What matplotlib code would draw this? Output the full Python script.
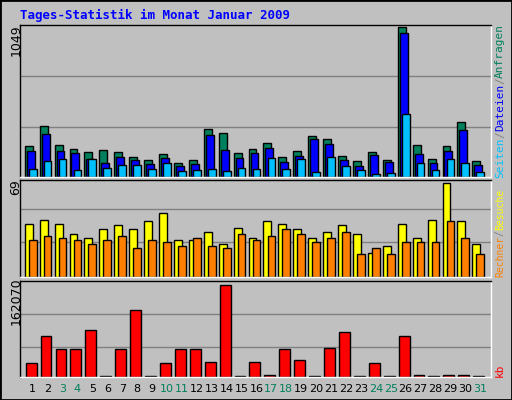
import matplotlib
matplotlib.use("Agg")
import matplotlib.pyplot as plt
import numpy as np

# daily values, January 2009
days = list(range(1, 32))
anfragen = [218, 354, 225, 195, 173, 187, 173, 138, 116, 159, 95, 116, 337, 308, 166, 195,
            237, 138, 180, 287, 266, 145, 109, 173, 116, 1049, 223, 123, 218, 387, 109]
dateien = [180, 301, 180, 166, 123, 95, 138, 116, 88, 131, 74, 88, 294, 187, 131, 166,
           202, 102, 145, 266, 230, 116, 74, 152, 102, 1006, 159, 95, 180, 330, 81]
seiten = [59, 109, 123, 52, 123, 66, 81, 81, 59, 95, 45, 52, 59, 45, 66, 59,
          131, 59, 123, 38, 138, 74, 52, 24, 31, 444, 95, 52, 123, 95, 38]
besuche = [39, 42, 39, 32, 29, 35, 38, 35, 41, 47, 27, 27, 33, 24, 36, 29,
           41, 39, 35, 29, 33, 38, 32, 18, 23, 39, 29, 42, 69, 41, 24]
rechner = [27, 30, 29, 27, 24, 27, 30, 21, 27, 26, 23, 29, 23, 21, 32, 27,
           30, 35, 32, 26, 29, 33, 17, 21, 17, 26, 26, 26, 41, 29, 17]
kb = [25400, 71600, 48500, 48500, 82200, 0, 48500, 117700, 0, 25400, 48500, 48500,
      27200, 162070, 0, 27200, 4100, 48500, 29000, 0, 50300, 78700, 0, 25400, 0,
      71600, 4100, 0, 4100, 4100, 0]
weekend = [3, 4, 10, 11, 17, 18, 24, 25, 31]

BG = "#C0C0C0"
W, H = 512, 400
fig = plt.figure(figsize=(5.12, 4.0), dpi=100, facecolor=BG)
x = np.array(days)

def panel(top, bottom):
    ax = fig.add_axes([20 / W, 1 - bottom / H, (491 - 20) / W, (bottom - top) / H])
    ax.set_facecolor(BG)
    ax.set_xlim(0.15, 31.72)
    ax.set_xticks([])
    ax.set_yticks([])
    for s in ax.spines.values():
        s.set_color("black")
        s.set_linewidth(1)
    ax.spines["right"].set_color("white")
    ax.spines["bottom"].set_color("white")
    return ax

ax1 = panel(25, 177)
ax1.set_ylim(0, 1049 * 148 / 146)
for f in (1 / 3, 2 / 3):
    ax1.axhline(f * 1049 * 148 / 146 * 0.995, color="#808080", lw=1, zorder=0)
kw = dict(edgecolor="black", linewidth=1, align="edge", zorder=2)
ax1.bar(x - 0.53, anfragen, 0.53, color="#00805C", **kw)
ax1.bar(x - 0.40, dateien, 0.53, color="#0000FF", **kw)
ax1.bar(x - 0.26, seiten, 0.52, color="#00C0FF", **kw)

ax2 = panel(180, 277)
ax2.set_ylim(0, 69 * 1.035)
for f in (0.36, 0.70):
    ax2.axhline(f * 69 * 1.035, color="#808080", lw=1, zorder=0)
ax2.bar(x - 0.53, besuche, 0.53, color="#FFFF00", **kw)
ax2.bar(x - 0.26, rechner, 0.52, color="#FF8000", **kw)

ax3 = panel(281, 377)
ax3.set_ylim(0, 162070 * 1.04)
for f in (0.31, 0.66):
    ax3.axhline(f * 162070 * 1.04, color="#808080", lw=1, zorder=0)
ax3.bar(x - 0.47, [max(v, 1000) for v in kb], 0.73, color="#FF0000", **kw)

# y max labels
fig.text(16 / W, 1 - 40 / H, "1049", rotation=90, ha="center", va="center", fontsize=9)
fig.text(16 / W, 1 - 187 / H, "69", rotation=90, ha="center", va="center", fontsize=9)
fig.text(16 / W, 1 - 301 / H, "162070", rotation=90, ha="center", va="center", fontsize=9)

# day labels
for d in days:
    xp = 20 + (d - 0.15) / (31.72 - 0.15) * 471
    fig.text(xp / W, 1 - 389 / H, str(d), ha="center", va="center", fontsize=8,
             color="#00805C" if d in weekend else "black")

fig.text(20 / W, 1 - 15 / H, "Tages-Statistik im Monat Januar 2009", ha="left", va="center",
         fontsize=9, fontweight="bold", family="DejaVu Sans Mono", color="#0000FF")

def side(parts, y0, fs=6.8):
    cw = 0.602 * fs * 100 / 72
    y = y0
    for txt, col in parts:
        fig.text(500 / W, 1 - y / H, txt, rotation=90, ha="center", va="bottom",
                 fontsize=fs, color=col, family="DejaVu Sans Mono")
        y -= len(txt) * cw

side([("Seiten", "#00C0FF"), ("/", "#808080"), ("Dateien", "#0000FF"),
      ("/", "#808080"), ("Anfragen", "#00805C")], 178, fs=8)
side([("Rechner", "#FF8000"), ("/", "#808080"), ("Besuche", "#FFFF00")], 277, fs=7)
side([("kb", "#FF0000")], 377, fs=8)

# outer frame
fig.patches.append(plt.Rectangle((0, 0), 1, 1, transform=fig.transFigure, fill=False,
                                 edgecolor="black", linewidth=2))
fig.savefig("out.png", dpi=100, facecolor=BG)
